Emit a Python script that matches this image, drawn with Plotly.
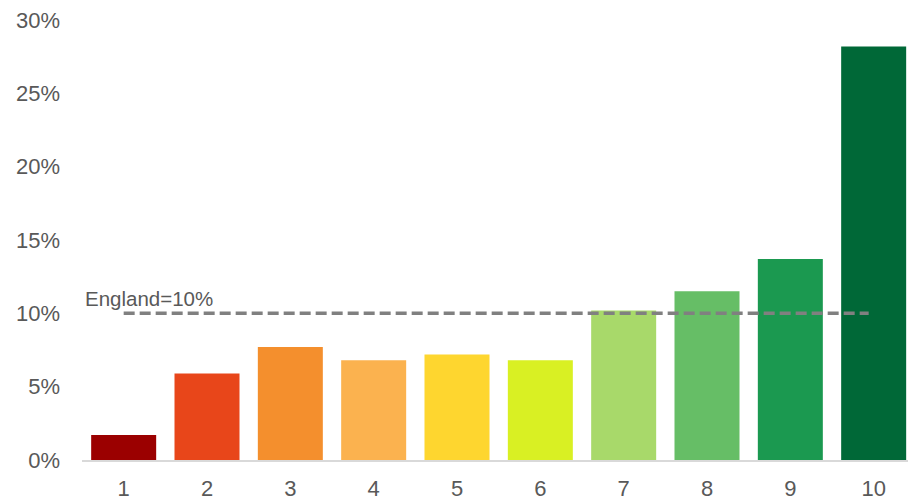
import plotly.graph_objects as go

# Decile categories and share of each decile (%)
deciles = ["1", "2", "3", "4", "5", "6", "7", "8", "9", "10"]
shares = [1.7, 5.9, 7.7, 6.8, 7.2, 6.8, 10.2, 11.5, 13.7, 28.2]
england = 10
bar_colors = ["#9b0000", "#e8461a", "#f48f2d", "#fbb24f", "#fed62f",
              "#d9f023", "#a8d96a", "#66be66", "#1b9950", "#006837"]
y_ticks = [0, 5, 10, 15, 20, 25, 30]
y_tick_text = [f"{v}%" for v in y_ticks]

font_family = "Arial, Liberation Sans, sans-serif"
text_color = "#595959"

x_pos = list(range(1, len(deciles) + 1))

fig = go.Figure()
fig.add_trace(go.Bar(
    x=x_pos, y=shares,
    marker=dict(color=bar_colors, line=dict(width=0)),
    width=0.78,
    hoverinfo="skip",
))

# England average reference line
fig.add_trace(go.Scatter(
    x=[x_pos[0], x_pos[-1] - 0.06], y=[england, england],
    mode="lines",
    line=dict(color="#808080", width=3.5, dash="11px,5px"),
    hoverinfo="skip",
))
fig.add_annotation(
    x=x_pos[0], y=england, xref="x", yref="y",
    text=f"England={england}%", showarrow=False,
    xanchor="left", yanchor="bottom", xshift=-41, yshift=1,
    font=dict(family=font_family, size=20.5, color=text_color),
)

fig.update_layout(
    width=908, height=501,
    margin=dict(l=82, r=0, t=20, b=41),
    paper_bgcolor="white", plot_bgcolor="white",
    showlegend=False,
    bargap=0.22,
    font=dict(family=font_family, color=text_color),
)
fig.update_xaxes(
    range=[0.5, 10.412],
    tickmode="array", tickvals=x_pos, ticktext=deciles,
    showgrid=False, zeroline=False,
    showline=True, linecolor="#d9d9d9", linewidth=2,
    ticks="", tickfont=dict(size=22, color=text_color),
    ticklabelstandoff=8, automargin=False,
)
fig.update_yaxes(
    range=[0, 30],
    tickmode="array", tickvals=y_ticks, ticktext=y_tick_text,
    showgrid=False, zeroline=False, showline=False,
    ticks="", tickfont=dict(size=22, color=text_color),
    ticklabelstandoff=21, automargin=False,
)

fig.write_html("out.html")
